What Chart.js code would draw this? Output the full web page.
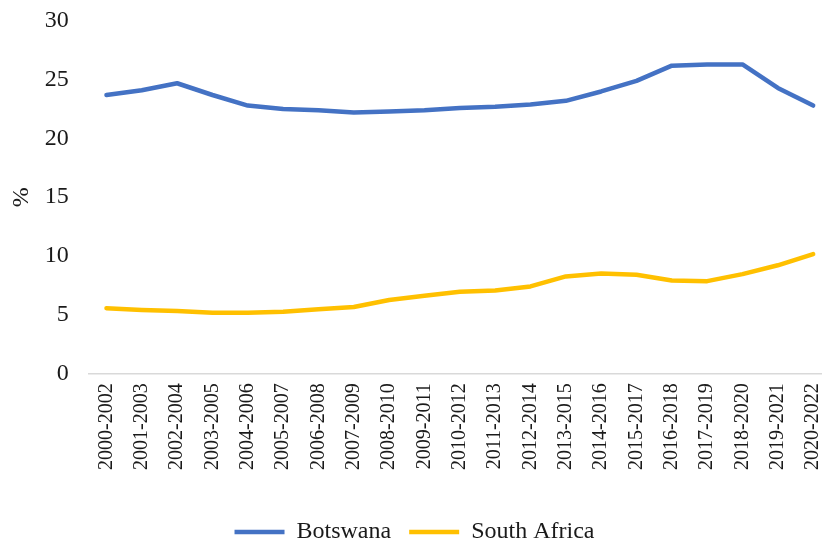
<!DOCTYPE html>
<html>
<head>
<meta charset="utf-8">
<script src="https://cdn.jsdelivr.net/npm/chart.js@4/dist/chart.umd.min.js"></script>
<style>
html, body { margin: 0; padding: 0; background: #fff; overflow: hidden; }
#wrap { width: 822px; height: 545px; }
</style>
</head>
<body>
<div id="wrap"><canvas id="chart"></canvas></div>
<script>
const periods = [
    "2000-2002", "2001-2003", "2002-2004", "2003-2005", "2004-2006", "2005-2007",
    "2006-2008", "2007-2009", "2008-2010", "2009-2011", "2010-2012", "2011-2013",
    "2012-2014", "2013-2015", "2014-2016", "2015-2017", "2016-2018", "2017-2019",
    "2018-2020", "2019-2021", "2020-2022"
];
const botswana = [
    23.7, 24.1, 24.7, 23.7, 22.8, 22.5, 22.4, 22.2, 22.3, 22.4, 22.6,
    22.7, 22.9, 23.2, 24.0, 24.9, 26.2, 26.3, 26.3, 24.3, 22.8
];
const southAfrica = [
    5.55, 5.4, 5.3, 5.15, 5.15, 5.25, 5.45, 5.65, 6.25, 6.6, 6.95,
    7.05, 7.4, 8.25, 8.5, 8.4, 7.9, 7.85, 8.45, 9.2, 10.15
];
const yTicks = [0, 5, 10, 15, 20, 25, 30];

const serif = "'Liberation Serif', 'Times New Roman', serif";
const textColor = "#1a1a1a";

function toPoints(values) {
    return values.map((v, i) => ({x: i, y: v}));
}

function lineDataset(label, values, color) {
    return {
        label: label,
        data: toPoints(values),
        borderColor: color,
        backgroundColor: color,
        borderWidth: 4.5,
        pointRadius: 0,
        tension: 0,
        borderJoinStyle: "round",
        borderCapStyle: "round"
    };
}

new Chart(document.getElementById("chart"), {
    type: "line",
    data: {
        datasets: [
            lineDataset("Botswana", botswana, "#4472C4"),
            lineDataset("South Africa", southAfrica, "#FFC000")
        ]
    },
    options: {
        responsive: true,
        maintainAspectRatio: false,
        animation: false,
        layout: {padding: {left: 7, right: 0, top: 21, bottom: -9}},
        scales: {
            x: {
                type: "linear",
                min: -0.5,
                max: 20.25,
                grid: {display: false, drawTicks: false},
                border: {display: true, color: "#d9d9d9", width: 1.5},
                afterBuildTicks: (axis) => {
                    axis.ticks = periods.map((p, i) => ({value: i}));
                },
                // the last rotated label may hang past the plot edge
                afterFit: (axis) => {
                    axis.paddingRight = 0;
                    axis.paddingLeft = 0;
                    axis.height += 22;
                },
                ticks: {
                    autoSkip: false,
                    minRotation: 90,
                    maxRotation: 90,
                    padding: 10,
                    color: textColor,
                    font: {family: serif, size: 20},
                    callback: (value) => periods[value]
                }
            },
            y: {
                min: 0,
                max: 30,
                afterBuildTicks: (axis) => {
                    axis.ticks = yTicks.map(v => ({value: v}));
                },
                afterFit: (axis) => {
                    axis.width -= 15;
                    axis.paddingTop = 0;
                },
                grid: {display: false, drawTicks: false},
                border: {display: false},
                ticks: {
                    padding: 20,
                    color: textColor,
                    font: {family: serif, size: 24}
                },
                title: {
                    display: true,
                    text: "%",
                    color: textColor,
                    font: {family: serif, size: 24},
                    padding: {top: 0, bottom: 4}
                }
            }
        },
        plugins: {
            tooltip: {enabled: false},
            legend: {
                position: "bottom",
                labels: {
                    usePointStyle: true,
                    pointStyle: "line",
                    pointStyleWidth: 50,
                    padding: 18,
                    color: textColor,
                    font: {family: serif, size: 24}
                }
            }
        }
    }
});
</script>
</body>
</html>
